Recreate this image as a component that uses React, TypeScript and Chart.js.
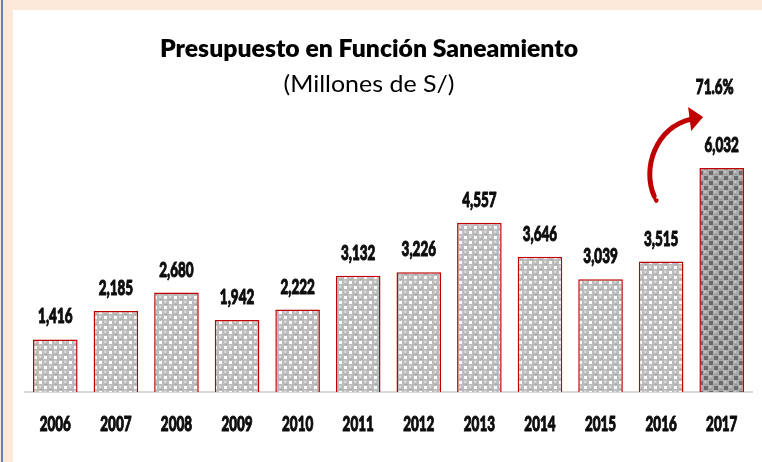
import React, { useEffect, useRef } from "react";
import { Chart, registerables } from "chart.js";

Chart.register(...registerables);

const years: string[] = ["2006", "2007", "2008", "2009", "2010", "2011", "2012", "2013", "2014", "2015", "2016", "2017"];
const budget: number[] = [1416, 2185, 2680, 1942, 2222, 3132, 3226, 4557, 3646, 3039, 3515, 6032];
const growthLabel = "71.6%";
const titleText = "Presupuesto en Función Saneamiento";
const subtitleText = "(Millones de S/)";

function makePattern(dark: boolean): CanvasPattern | string {
  const n = 10;
  const c = document.createElement("canvas");
  c.width = n;
  c.height = n;
  const g = c.getContext("2d");
  if (!g) return dark ? "#808080" : "#c8c8c8";
  const gap = dark ? "#6a6a6a" : "#ffffff";
  const sphere = dark ? "#ababab" : "#bcbcbc";
  const shade = dark ? "#959595" : "#a9a9a9";
  const hi = dark ? "#c6c6c6" : "#dedede";
  g.fillStyle = sphere;
  g.fillRect(0, 0, n, n);
  g.fillStyle = gap;
  g.fillRect(6, 1, dark ? 4 : 3, dark ? 4 : 3);
  g.fillRect(1, 6, dark ? 4 : 3, dark ? 4 : 3);
  const centers = [
    [2.5, 2.5],
    [7.5, 7.5],
  ];
  for (const [x, y] of centers) {
    g.fillStyle = shade;
    g.fillRect(x - 1, y + 1.5, 3, 1);
    g.fillStyle = hi;
    g.beginPath();
    g.arc(x - 0.3, y - 0.8, 1.2, 0, Math.PI * 2);
    g.fill();
  }
  const p = g.createPattern(c, "repeat");
  return p || (dark ? "#808080" : "#c8c8c8");
}

function drawScaled(
  ctx: CanvasRenderingContext2D,
  text: string,
  x: number,
  y: number,
  font: string,
  sx: number,
  color: string,
  thicken = 0
) {
  ctx.save();
  ctx.font = font;
  ctx.fillStyle = color;
  ctx.strokeStyle = color;
  ctx.textAlign = "center";
  ctx.textBaseline = "alphabetic";
  ctx.translate(x, y);
  ctx.scale(sx, 1);
  ctx.fillText(text, 0, 0);
  if (thicken > 0) {
    ctx.lineWidth = thicken;
    ctx.lineJoin = "round";
    ctx.strokeText(text, 0, 0);
  }
  ctx.restore();
}

const labelFont = "900 20px Lato, 'Open Sans', sans-serif";

const decorPlugin = {
  id: "decor",
  afterDatasetsDraw(chart: any) {
    const ctx: CanvasRenderingContext2D = chart.ctx;
    const meta = chart.getDatasetMeta(0);
    const area = chart.chartArea;
    ctx.save();
    ctx.font = labelFont;
    const digitW = ctx.measureText("0").width || 11;
    const sx = 7.8 / digitW;
    ctx.restore();

    // value labels
    meta.data.forEach((bar: any, i: number) => {
      const txt = budget[i].toLocaleString("en-US");
      drawScaled(ctx, txt, bar.x, bar.y - 16, labelFont, sx, "#0d0d0d", 1);
    });
    // x labels
    const xs = chart.scales.x;
    years.forEach((yr, i) => {
      drawScaled(ctx, yr, xs.getPixelForValue(i), area.bottom + 39, labelFont, sx, "#0d0d0d", 1);
    });

    // title and subtitle
    ctx.save();
    const tFont = "800 24px Lato, 'Open Sans', sans-serif";
    ctx.font = tFont;
    const tw = ctx.measureText(titleText).width || 418;
    const sFont = "24px Lato, 'Open Sans', sans-serif";
    ctx.font = sFont;
    const sw = ctx.measureText(subtitleText).width || 171;
    ctx.restore();
    drawScaled(ctx, titleText, 356, 47, tFont, 418 / tw, "#000000");
    drawScaled(ctx, subtitleText, 356, 82, sFont, 171 / sw, "#000000");

    // growth arrow
    const last = meta.data[meta.data.length - 1];
    const prev = meta.data[meta.data.length - 2];
    const x16 = prev.x;
    const top17 = last.y;
    drawScaled(ctx, growthLabel, last.x - 7, top17 - 74, labelFont, sx, "#0d0d0d", 1);

    const red = "#C00000";
    ctx.save();
    ctx.strokeStyle = red;
    ctx.fillStyle = red;
    ctx.lineCap = "round";
    ctx.lineWidth = 3;
    ctx.beginPath();
    ctx.moveTo(x16 - 4, top17 + 32);
    ctx.quadraticCurveTo(x16 - 5, top17 + 36, x16 - 7, top17 + 28);
    ctx.stroke();
    ctx.lineWidth = 5;
    ctx.beginPath();
    ctx.moveTo(x16 - 7, top17 + 28);
    ctx.bezierCurveTo(x16 - 19, top17 + 0, x16 - 6, top17 - 40, x16 + 30, top17 - 49);
    ctx.stroke();
    ctx.beginPath();
    ctx.moveTo(x16 + 42, top17 - 51);
    ctx.lineTo(x16 + 27, top17 - 61);
    ctx.lineTo(x16 + 30, top17 - 37);
    ctx.closePath();
    ctx.fill();
    ctx.restore();
  },
};

export default function App() {
  const ref = useRef<HTMLCanvasElement | null>(null);
  useEffect(() => {
    document.body.style.margin = "0";
    const canvas = ref.current;
    if (!canvas) return;
    const light = makePattern(false);
    const dark = makePattern(true);
    const chart = new Chart(canvas, {
      type: "bar",
      data: {
        labels: years,
        datasets: [
          {
            data: budget,
            backgroundColor: budget.map((_, i) => (i === budget.length - 1 ? dark : light)) as any,
            borderColor: "#C00000",
            borderWidth: 1.5,
            categoryPercentage: 0.8,
            barPercentage: 0.92,
          },
        ],
      },
      options: {
        animation: false,
        responsive: false,
        devicePixelRatio: 1,
        layout: { padding: { top: 85, bottom: 70, left: 12, right: 10 } },
        plugins: { legend: { display: false }, tooltip: { enabled: false }, title: { display: false } },
        scales: {
          x: {
            display: true,
            grid: { display: false, drawTicks: false },
            ticks: { display: false },
            border: { display: true, color: "#D9D9D9", width: 2 },
          },
          y: { display: false, min: 0, max: 8000 },
        },
      },
      plugins: [decorPlugin],
    });
    return () => chart.destroy();
  }, []);

  return (
    <div style={{ position: "relative", width: 762, height: 462, background: "#FDE9D9", overflow: "hidden" }}>
      <div style={{ position: "absolute", left: 1, top: 0, width: 2, height: 462, background: "#5B84C4" }} />
      <div style={{ position: "absolute", left: 13, top: 10, width: 749, height: 452, background: "#ffffff" }}>
        <canvas ref={ref} width={749} height={452} style={{ display: "block", width: 749, height: 452 }} />
      </div>
    </div>
  );
}
